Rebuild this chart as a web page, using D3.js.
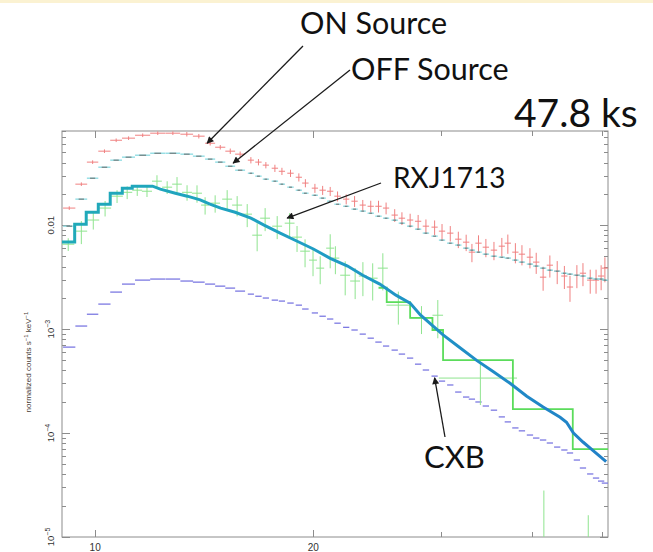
<!DOCTYPE html>
<html>
<head>
<meta charset="utf-8">
<script src="https://cdn.jsdelivr.net/npm/d3@7"></script>
<style>
  html, body { margin: 0; padding: 0; background: #fff; }
  svg { display: block; }
</style>
</head>
<body>
<svg id="chart" width="653" height="552"></svg>
<script>
//
// HXD-PIN style spectrum: ON / OFF source, RXJ1713 excess, CXB
//

/* Channel energies (keV) and half widths shared by ON, OFF and CXB */
const binE = [9.21, 9.57, 9.92, 10.3, 10.69, 11.12, 11.63, 12.2, 12.8, 13.38, 13.9, 14.41, 14.88, 15.36, 15.85,
  16.4, 16.8, 17.2, 17.7, 18.1, 18.6, 19.1, 19.5, 20.1, 20.6, 21.1, 21.6, 22.2, 22.8, 23.4, 24.0, 24.6, 25.2, 25.9, 26.5,
  27.2, 27.9, 28.6, 29.4, 30.1, 30.9, 31.7, 32.5, 33.1, 33.8, 34.6, 35.5, 36.4, 37.1, 38.0, 38.8, 39.8, 40.6, 41.5, 42.4,
  43.4, 44.4, 45.2, 46.2, 47.1, 48.2, 49.1, 49.9, 50.5];
const binW = [0.18, 0.18, 0.18, 0.2, 0.2, 0.23, 0.28, 0.29, 0.3, 0.27, 0.26, 0.23, 0.24, 0.24, 0.25,
  0.16, 0.17, 0.17, 0.18, 0.18, 0.19, 0.19, 0.2, 0.2, 0.21, 0.21, 0.22, 0.22, 0.23, 0.23, 0.24, 0.25, 0.25, 0.26, 0.27,
  0.27, 0.28, 0.29, 0.29, 0.3, 0.31, 0.32, 0.33, 0.33, 0.34, 0.35, 0.36, 0.36, 0.37, 0.38, 0.39, 0.4, 0.41, 0.42, 0.42,
  0.43, 0.44, 0.45, 0.46, 0.47, 0.48, 0.49, 0.5, 0.5];

// ON source (normalized counts s^-1 keV^-1) and fractional errors
const onRate = [0.0146, 0.0248, 0.0404, 0.0515, 0.0656, 0.0687, 0.0733, 0.0767, 0.0767, 0.0750, 0.0718, 0.0614, 0.0562, 0.0515, 0.0482,
  0.0422, 0.0404, 0.0378, 0.0353, 0.0330, 0.0316, 0.0289, 0.0254, 0.0227, 0.0217, 0.0212, 0.0190, 0.0178, 0.0170, 0.0156,
  0.0152, 0.0152, 0.0146, 0.0125, 0.01167, 0.0112, 0.0109, 0.00978, 0.00957, 0.00876, 0.00838, 0.00733, 0.00686, 0.0055,
  0.00671, 0.00614, 0.00575, 0.00628, 0.00671, 0.0055, 0.00526, 0.00492, 0.00441, 0.00316, 0.00412, 0.00361, 0.00324,
  0.00254, 0.0033, 0.00345, 0.00296, 0.00296, 0.00324, 0.00386];
const onErr = [0.04, 0.04, 0.04, 0.04, 0.04, 0.04, 0.04, 0.04, 0.04, 0.05, 0.05, 0.05, 0.05, 0.06, 0.06,
  0.07, 0.07, 0.07, 0.08, 0.08, 0.08, 0.09, 0.09, 0.1, 0.1, 0.1, 0.11, 0.11, 0.12, 0.12, 0.13, 0.13, 0.13, 0.14, 0.14,
  0.15, 0.15, 0.16, 0.16, 0.17, 0.17, 0.18, 0.18, 0.2, 0.19, 0.2, 0.2, 0.2, 0.21, 0.22, 0.22, 0.22, 0.23, 0.26, 0.24,
  0.25, 0.25, 0.28, 0.25, 0.25, 0.26, 0.26, 0.27, 0.27];

// OFF source
const offRate = [0.00978, 0.0178, 0.0283, 0.0361, 0.0422, 0.0451, 0.0471, 0.0492, 0.0492, 0.0482, 0.0461, 0.0432, 0.0404, 0.0369, 0.0338,
  0.0316, 0.0296, 0.0277, 0.0265, 0.0248, 0.0232, 0.0217, 0.0203, 0.0194, 0.0182, 0.0170, 0.0159, 0.0152, 0.01426, 0.01365,
  0.01303, 0.0122, 0.01167, 0.01117, 0.01045, 0.00978, 0.00915, 0.00838, 0.00784, 0.00718, 0.00671, 0.00643, 0.00601,
  0.00575, 0.0055, 0.00526, 0.00503, 0.00492, 0.00482, 0.00461, 0.00441, 0.00422, 0.00404, 0.00386, 0.00369, 0.00361,
  0.00345, 0.00338, 0.0033, 0.00324, 0.00309, 0.00303, 0.00303, 0.00296];

// Cosmic X-ray background
const cxbRate = [0.000671, 0.00107, 0.00139, 0.00174, 0.00227, 0.00271, 0.00296, 0.00303, 0.00303, 0.0029, 0.00283, 0.00271, 0.00259, 0.00248, 0.00232,
  0.00217, 0.00207, 0.00199, 0.0019, 0.00186, 0.00178, 0.0017, 0.00156, 0.00143, 0.00133, 0.00125, 0.00114, 0.00104,
  0.00098, 0.000895, 0.000818, 0.00075, 0.000687, 0.000628, 0.000575, 0.000526, 0.00046, 0.000404, 0.000353, 0.000316,
  0.00029, 0.000248, 0.000222, 0.000212, 0.000199, 0.000182, 0.000166, 0.000143, 0.000128, 0.000112, 0.000105,
  9.57e-5, 8.95e-5, 8.57e-5, 8.02e-5, 7.33e-5, 6.87e-5, 6.43e-5, 5.5e-5, 4.61e-5, 4.04e-5, 3.69e-5, 3.45e-5, 3.3e-5];

/* RXJ1713 (ON - OFF) data points */
const rxjE = [9.18, 9.57, 9.94, 10.32, 10.72, 11.07, 11.43, 11.79, 12.17, 12.57, 12.97, 13.39, 13.82, 14.18, 14.64,
  15.21, 15.70, 16.21, 16.73, 17.16, 17.83, 18.55, 18.99, 19.48, 19.98, 20.44, 21.10, 21.45, 22.13, 22.84, 23.41,
  24.15, 24.94, 26.2, 28.2, 29.7, 34.0, 41.6, 47.9];
const rxjW = [0.18, 0.18, 0.19, 0.2, 0.2, 0.18, 0.18, 0.19, 0.19, 0.2, 0.2, 0.21, 0.22, 0.18, 0.23,
  0.24, 0.25, 0.25, 0.26, 0.27, 0.28, 0.29, 0.3, 0.3, 0.25, 0.26, 0.27, 0.27, 0.35, 0.36, 0.3,
  0.38, 0.4, 0.97, 1.0, 0.5, 4.2, 3.95, 2.3];
const rxjRate = [0.00656, 0.00876, 0.0112, 0.0146, 0.0190, 0.0207, 0.0217, 0.0212, 0.0265, 0.0232, 0.0248, 0.0207, 0.0203, 0.0156, 0.01628,
  0.0178, 0.0156, 0.01276, 0.00801, 0.01167, 0.00978, 0.01045, 0.00767, 0.00562, 0.00461, 0.00386, 0.00601, 0.00482,
  0.0033, 0.0029, 0.00324, 0.00309, 0.00386, 0.0017, 0.00128, 0.00136, 0.000338, 0.000008, 0.000006];
const rxjErr = [0.14, 0.25, 0.19, 0.17, 0.14, 0.14, 0.12, 0.12, 0.14, 0.14, 0.17, 0.17, 0.19, 0.19, 0.19,
  0.22, 0.22, 0.25, 0.3, 0.25, 0.25, 0.25, 0.28, 0.3, 0.3, 0.3, 0.36, 0.3, 0.36, 0.33, 0.36,
  0.39, 0.39, 0.35, 0.3, 0.4, 0.45, 2.5, 1.7];

// Folded model for RXJ1713 in the wide high-energy bins (bin edges, values)
const rxjModelEdges = [24.6, 25.25, 27.2, 29.2, 30.2, 37.7, 45.6, 51.0];
const rxjModelRate = [0.0025, 0.00182, 0.00128, 0.00098, 0.000504, 0.00017, 0.00007];

/* Best-fit model: wide low-energy bins, then fine bins */
const modelStepEdges = [9.0, 9.37, 9.72, 10.1, 10.49, 10.9, 11.25, 12.0];
const modelStepRate = [0.00687, 0.0102, 0.0133, 0.0159, 0.0203, 0.0227, 0.0237];
const modelE = [12.0, 12.3, 12.9, 13.4, 13.96, 14.4, 14.9, 15.6, 16.4, 17.1, 18.0, 19.0, 20.0, 21.1, 22.3, 23.4,
  24.7, 26.0, 27.2, 28.1, 30.2, 31.8, 33.6, 35.4, 37.4, 39.4, 41.5, 43.8, 44.7, 45.7, 47.1, 48.6, 50.7];
const modelRate = [0.0237, 0.0222, 0.0203, 0.0190, 0.0175, 0.0159, 0.0146, 0.0133, 0.0117, 0.0100, 0.0084, 0.0070,
  0.0059, 0.0048, 0.00404, 0.0033, 0.00271, 0.00212, 0.00178, 0.00137, 0.00088, 0.00067, 0.0005, 0.00039, 0.0003,
  0.000226, 0.000178, 0.000142, 0.000127, 0.0001, 8.2e-5, 6.8e-5, 5.3e-5];

const xTicksLabelled = [10, 20];
const xTicksMinor = [30, 40, 50];
const yLabelTicks = [0.01, 1e-3, 1e-4, 1e-5];

/* Layout */
const PLOT = { left: 62, right: 608, top: 131, bottom: 537 };

const svg = d3.select("#chart");

const xScale = d3.scaleLog().domain([9.0, 51.0]).range([PLOT.left, PLOT.right]);
const yScale = d3.scaleLog().domain([1e-5, 0.0805]).range([PLOT.bottom, PLOT.top]);
const yMin = yScale.domain()[0];

// faint slide border at top
svg.append("rect").attr("x", 0).attr("y", 0).attr("width", 653).attr("height", 3).attr("fill", "#fbf2d2");

const defs = svg.append("defs");
defs.append("clipPath").attr("id", "plotClip")
  .append("rect")
  .attr("x", PLOT.left).attr("y", PLOT.top)
  .attr("width", PLOT.right - PLOT.left).attr("height", PLOT.bottom - PLOT.top);

const grad = defs.append("linearGradient").attr("id", "modelGrad")
  .attr("gradientUnits", "userSpaceOnUse")
  .attr("x1", PLOT.left).attr("x2", PLOT.right).attr("y1", 0).attr("y2", 0);
grad.append("stop").attr("offset", "0%").attr("stop-color", "#20aab8");
grad.append("stop").attr("offset", "45%").attr("stop-color", "#1f9ec4");
grad.append("stop").attr("offset", "100%").attr("stop-color", "#2180c8");

defs.append("marker").attr("id", "arrow")
  .attr("viewBox", "0 0 10 10").attr("refX", 9).attr("refY", 5)
  .attr("markerWidth", 10).attr("markerHeight", 7)
  .attr("markerUnits", "userSpaceOnUse").attr("orient", "auto")
  .append("path").attr("d", "M0,0L10,5L0,10z").attr("fill", "#1a1a1a");

drawFrame();

const plot = svg.append("g").attr("clip-path", "url(#plotClip)");

// merge the shared-channel series
const cxb = binE.map((e, i) => ({ e, w: binW[i], v: cxbRate[i] }));
const onSrc = binE.map((e, i) => ({ e, w: binW[i], v: onRate[i], err: onErr[i] }));
const offSrc = binE.map((e, i) => ({ e, w: binW[i], v: offRate[i] }));
const rxj = rxjE.map((e, i) => ({ e, w: rxjW[i], v: rxjRate[i], err: rxjErr[i] }));

drawBars(plot.append("g"), cxb, "#7c79e2", 1.3);
drawCrosses(plot.append("g"), onSrc, "#f08080", 1);
drawBars(plot.append("g"), offSrc, "#8adbe2", 1.3);
// darker centre of the OFF bins
plot.append("g").selectAll("line").data(offSrc).join("line")
  .attr("x1", d => xScale(d.e - d.w * 0.45)).attr("x2", d => xScale(d.e + d.w * 0.45))
  .attr("y1", d => yScale(d.v)).attr("y2", d => yScale(d.v))
  .attr("stroke", "#6b6b6b").attr("stroke-width", 1);
drawCrosses(plot.append("g"), rxj, "#8fe48f", 1);

// RXJ1713 folded model steps
const rxjPts = [];
rxjModelRate.forEach((v, i) => {
  rxjPts.push([rxjModelEdges[i], v], [rxjModelEdges[i + 1], v]);
});
const line = d3.line().x(d => xScale(d[0])).y(d => yScale(d[1]));
plot.append("path").attr("d", line(rxjPts))
  .attr("fill", "none").attr("stroke", "#5bdc5b").attr("stroke-width", 1.8);

// best-fit model
const modelPts = [];
modelStepRate.forEach((v, i) => {
  modelPts.push([modelStepEdges[i], v], [modelStepEdges[i + 1], v]);
});
modelE.forEach((e, i) => { if (i > 0) modelPts.push([e, modelRate[i]]); });
plot.append("path").attr("d", line(modelPts))
  .attr("fill", "none").attr("stroke", "url(#modelGrad)")
  .attr("stroke-width", 3).attr("stroke-linejoin", "miter");

drawAnnotations();

function drawBars(g, data, color, width) {
  g.selectAll("line").data(data).join("line")
    .attr("x1", d => xScale(d.e - d.w)).attr("x2", d => xScale(d.e + d.w))
    .attr("y1", d => yScale(d.v)).attr("y2", d => yScale(d.v))
    .attr("stroke", color).attr("stroke-width", width);
}

function drawCrosses(g, data, color, width) {
  drawBars(g.append("g"), data, color, width);
  g.append("g").selectAll("line").data(data).join("line")
    .attr("x1", d => xScale(d.e)).attr("x2", d => xScale(d.e))
    .attr("y1", d => yScale(d.v * (1 + d.err)))
    .attr("y2", d => yScale(Math.max(d.v * (1 - d.err), yMin * 0.5)))
    .attr("stroke", color).attr("stroke-width", width);
}

function drawFrame() {
  const frame = svg.append("g").attr("stroke", "#8c8c8c").attr("stroke-width", 1);
  frame.append("rect")
    .attr("x", PLOT.left).attr("y", PLOT.top)
    .attr("width", PLOT.right - PLOT.left).attr("height", PLOT.bottom - PLOT.top)
    .attr("fill", "none");

  // log ticks on left and right, pointing inwards
  const yTicks = yScale.ticks();
  const isMajor = t => Math.abs(Math.log10(t) - Math.round(Math.log10(t))) < 1e-6;
  yTicks.forEach(t => {
    const len = isMajor(t) ? 8 : 4;
    const yy = Math.round(yScale(t)) + 0.5;
    frame.append("line").attr("x1", PLOT.left).attr("x2", PLOT.left + len).attr("y1", yy).attr("y2", yy);
    frame.append("line").attr("x1", PLOT.right).attr("x2", PLOT.right - len).attr("y1", yy).attr("y2", yy);
  });

  xTicksLabelled.concat(xTicksMinor).forEach(t => {
    const xx = Math.round(xScale(t)) + 0.5;
    const len = xTicksLabelled.includes(t) ? 7 : 5;
    frame.append("line").attr("x1", xx).attr("x2", xx).attr("y1", PLOT.bottom).attr("y2", PLOT.bottom - len);
    frame.append("line").attr("x1", xx).attr("x2", xx).attr("y1", PLOT.top).attr("y2", PLOT.top + len);
  });

  const labels = svg.append("g")
    .attr("font-family", "Liberation Sans, Arial, sans-serif")
    .attr("fill", "#333");

  labels.selectAll("text.xt").data(xTicksLabelled).join("text")
    .attr("class", "xt")
    .attr("x", d => xScale(d)).attr("y", 551)
    .attr("text-anchor", "middle").attr("font-size", 10)
    .text(d => d);

  yLabelTicks.forEach(t => {
    const txt = labels.append("text")
      .attr("transform", `translate(54,${yScale(t)}) rotate(-90)`)
      .attr("text-anchor", "middle").attr("font-size", 9.5);
    if (t >= 0.01) {
      txt.text("0.01");
    } else {
      txt.append("tspan").text("10");
      txt.append("tspan").attr("dy", -4).attr("font-size", 7)
        .text("\u2212" + Math.round(-Math.log10(t)));
    }
  });

  const title = labels.append("text")
    .attr("transform", "translate(31,362) rotate(-90)")
    .attr("text-anchor", "middle").attr("font-size", 8).attr("fill", "#4a4038");
  title.append("tspan").text("normalized counts s");
  title.append("tspan").attr("dy", -3).attr("font-size", 6).text("\u22121");
  title.append("tspan").attr("dy", 3).text(" keV");
  title.append("tspan").attr("dy", -3).attr("font-size", 6).text("\u22121");
}

function drawAnnotations() {
  const notes = [
    { text: "ON Source", tx: 300, ty: 34, size: 30.5, tail: [303, 46], head: [14.27, 0.0614] },
    { text: "OFF Source", tx: 351, ty: 80, size: 30.5, tail: [350, 70], head: [15.5, 0.0395] },
    { text: "47.8 ks", tx: 514, ty: 127, size: 39 },
    { text: "RXJ1713", tx: 393, ty: 188, size: 28, tail: [381, 183], head: [18.4, 0.0117] },
    { text: "CXB", tx: 424, ty: 468, size: 31, tail: [445, 437], head: [29.4, 0.00034] }
  ];
  const g = svg.append("g");
  notes.filter(n => n.tail).forEach(n => {
    g.append("line")
      .attr("x1", n.tail[0]).attr("y1", n.tail[1])
      .attr("x2", xScale(n.head[0])).attr("y2", yScale(n.head[1]))
      .attr("stroke", "#1a1a1a").attr("stroke-width", 1.3)
      .attr("marker-end", "url(#arrow)");
  });
  g.selectAll("text").data(notes).join("text")
    .attr("x", d => d.tx).attr("y", d => d.ty)
    .attr("font-family", "Lato, 'Open Sans', sans-serif")
    .attr("font-size", d => d.size)
    .attr("fill", "#111")
    .text(d => d.text);
}
</script>
</body>
</html>
